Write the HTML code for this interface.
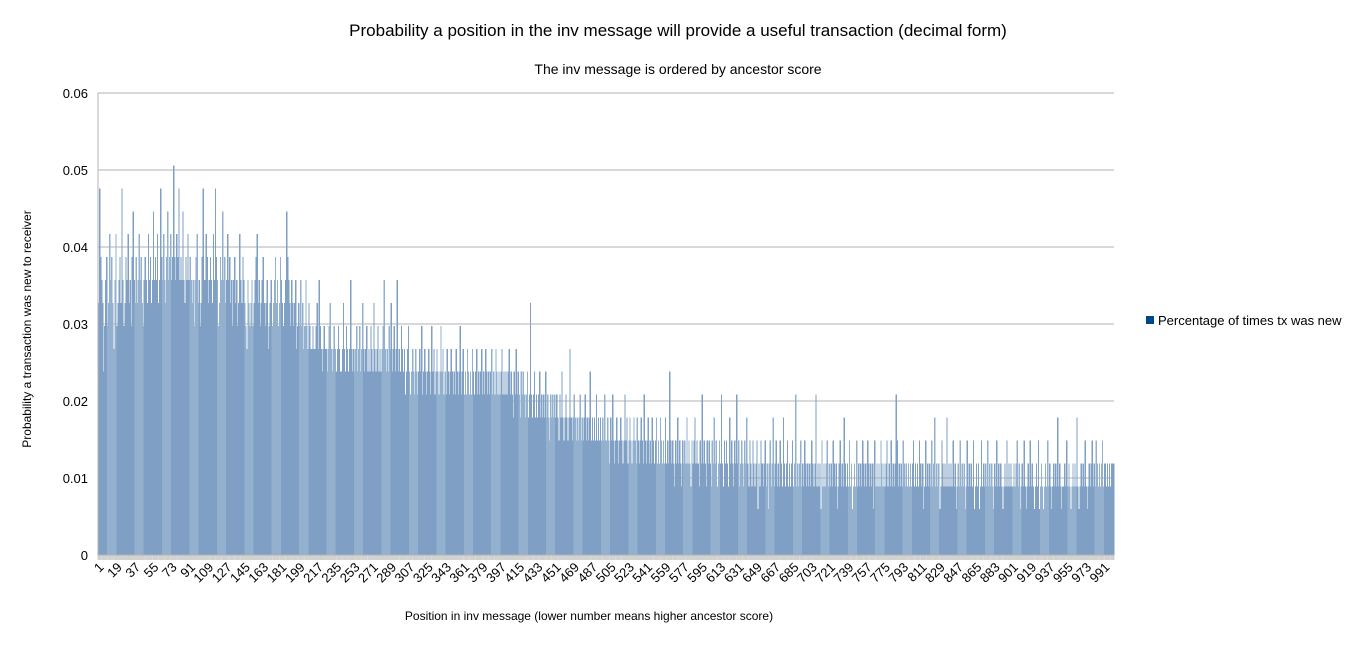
<!DOCTYPE html>
<html><head><meta charset="utf-8"><style>
body{margin:0;background:#fff;font-family:"Liberation Sans",sans-serif}
svg text{font-family:"Liberation Sans",sans-serif}
</style></head><body>
<svg id="c" width="1356" height="643" xmlns="http://www.w3.org/2000/svg">
<text x="678" y="36" font-size="17" text-anchor="middle">Probability a position in the inv message will provide a useful transaction (decimal form)</text>
<text x="678" y="74" font-size="14" text-anchor="middle">The inv message is ordered by ancestor score</text>
<text transform="translate(31,329) rotate(-90)" font-size="12" text-anchor="middle">Probability a transaction was new to receiver</text>
<text x="589" y="620" font-size="12" text-anchor="middle">Position in inv message (lower number means higher ancestor score)</text>
<g><rect x="1146" y="316" width="8" height="8" fill="#004586"/><text x="1158" y="325" font-size="13">Percentage of times tx was new</text></g>
<g id="grid"></g><g id="bars"></g><g id="axes"></g>
</svg>
<script>
const counts=[11,16,13,12,11,8,10,12,13,10,11,14,12,13,11,9,12,14,10,11,12,13,11,16,12,10,11,13,12,14,11,12,10,13,15,12,11,13,11,12,14,12,13,11,10,12,13,12,11,14,
12,13,11,12,15,12,13,12,14,11,12,16,13,12,14,12,11,13,15,12,13,14,12,13,17,13,12,14,13,16,12,13,12,15,12,11,13,12,14,12,13,12,11,12,10,12,13,14,11,12,
10,11,13,16,12,12,14,13,11,12,13,12,11,14,12,16,13,12,10,11,13,12,15,12,13,11,12,14,12,13,11,12,10,12,13,11,12,10,11,14,12,11,13,12,11,10,9,12,11,10,
11,12,10,11,12,13,14,11,12,10,11,12,13,11,10,11,12,9,10,11,12,10,11,12,13,11,12,10,11,13,12,11,10,11,12,15,13,12,11,10,12,11,10,11,12,9,10,11,10,12,
10,11,9,10,12,10,9,11,10,9,9,10,9,9,10,11,9,12,10,9,8,9,10,9,9,8,9,10,11,9,8,9,10,9,8,9,10,9,8,8,9,11,9,8,10,9,8,9,12,9,
8,9,8,9,10,8,9,10,8,9,11,9,8,9,10,8,9,8,10,9,8,11,9,8,9,10,8,9,8,9,10,12,9,8,9,8,10,9,11,8,9,10,8,9,12,8,9,8,10,9,
8,9,7,8,9,10,8,7,8,9,8,7,9,8,7,8,9,8,10,7,8,9,8,7,8,9,8,7,10,8,9,7,8,9,8,7,8,10,8,9,7,8,7,9,8,7,8,9,8,7,
8,7,9,8,7,8,10,7,8,9,7,8,7,9,8,7,8,7,9,8,7,8,9,7,8,7,8,9,7,8,7,9,8,7,8,7,8,9,7,8,7,9,8,7,8,7,8,9,7,8,
7,8,7,8,9,7,8,7,6,8,7,9,7,8,7,6,8,7,8,7,6,7,8,6,7,11,7,6,7,8,6,7,6,7,8,6,7,6,7,6,8,6,7,6,5,7,6,7,6,7,
6,7,6,5,7,6,8,6,5,6,7,6,5,6,9,6,5,6,7,6,5,6,5,6,7,5,6,5,6,7,5,6,5,6,8,5,6,5,6,5,7,5,6,5,6,5,6,5,7,5,
5,6,5,4,6,5,7,5,4,5,6,5,4,5,6,5,4,5,7,5,6,4,5,6,5,4,5,6,5,4,6,5,4,5,6,5,4,7,5,4,5,6,4,5,4,6,5,4,5,6,
4,5,4,6,5,4,5,4,6,4,5,4,8,5,4,5,4,3,5,4,6,4,5,4,3,5,4,5,4,6,4,5,4,3,5,4,5,6,4,5,4,3,5,4,7,4,5,4,3,5,
4,5,4,3,5,4,6,4,5,3,4,5,4,7,4,3,5,4,5,4,3,6,4,5,4,3,5,4,7,4,5,3,4,5,4,3,5,4,6,4,3,5,4,3,5,4,3,4,5,2,
4,3,5,4,3,4,5,3,4,2,4,5,3,4,6,3,4,5,3,4,3,5,4,3,6,4,3,4,5,3,4,3,4,5,3,4,7,3,4,3,4,5,3,4,3,5,4,3,4,3,
4,3,5,4,3,4,7,3,4,3,4,2,5,3,4,3,4,5,3,4,3,4,3,5,4,3,4,2,3,4,5,3,4,3,6,4,3,4,3,5,3,4,2,3,4,3,5,3,4,3,
4,3,5,4,3,4,3,5,4,3,4,3,4,2,5,3,4,3,4,3,5,4,3,4,3,4,5,3,4,3,5,3,4,3,4,7,5,3,4,3,4,3,5,4,3,4,3,4,3,4,
3,4,5,3,4,3,4,3,5,4,3,4,2,3,5,3,4,3,4,3,5,3,4,6,3,4,3,4,2,3,5,4,3,4,3,6,3,4,3,4,3,5,3,4,2,3,4,3,5,3,
4,3,4,2,3,5,3,4,3,4,3,5,2,3,4,3,4,2,3,5,3,4,3,4,3,5,3,4,3,4,3,2,4,3,5,3,4,3,4,3,2,3,4,3,5,3,4,3,4,3,
3,4,3,4,5,3,4,2,3,4,3,5,3,2,3,4,3,5,3,4,3,2,3,4,3,5,2,3,4,3,2,3,4,3,5,3,4,3,2,3,4,3,4,3,6,3,4,3,2,3,
3,4,3,5,3,4,3,2,3,4,3,4,3,6,3,2,3,4,3,4,3,5,3,2,3,4,3,4,5,3,4,3,5,4,3,4,3,4,5,3,4,4,3,4,3,4,3,4,4,4];
const sampleSize=336;
const values=counts.map(c=>c/sampleSize);
const yTicks=[0,0.01,0.02,0.03,0.04,0.05,0.06];
const yTickLabels=["0","0.01","0.02","0.03","0.04","0.05","0.06"];
const NS="http://www.w3.org/2000/svg";
const X0=98,X1=1114,Y0=555,Y1=93,YMAX=0.06;
const n=values.length,slot=(X1-X0)/n;
const y=v=>Y0-(v/YMAX)*(Y0-Y1);
const x=i=>X0+i*slot;
function mk(t,a){const e=document.createElementNS(NS,t);for(const k in a)e.setAttribute(k,a[k]);return e;}
const grid=document.getElementById('grid'),bars=document.getElementById('bars'),axes=document.getElementById('axes');
yTicks.forEach((t,i)=>{
 if(t>0){const l=mk('line',{x1:X0,x2:X1,y1:y(t),y2:y(t),stroke:'#b3b3b3','stroke-width':1,'shape-rendering':'crispEdges'});
 
 
 grid.appendChild(l);}
 const tx=mk('text',{x:88,y:y(t)+5,'font-size':13,'text-anchor':'end'});
 tx.textContent=yTickLabels[i];
 
 
 axes.appendChild(tx);
});
values.forEach((v,i)=>{
 const r=mk('rect',{x:x(i),y:y(v),width:slot+0.3,height:Y0-y(v),fill:(Math.floor(i/9)%3==1)?'#93b1cf':'#7f9fc4','shape-rendering':'crispEdges'});
 
 
 bars.appendChild(r);
});
let d='';for(let i=0;i<=n;i++){d+='M'+x(i).toFixed(1)+' '+Y0+'v5';}
const tk=mk('path',{d:d,stroke:'#b3b3b3','stroke-width':0.6});


axes.appendChild(tk);
const ax=mk('path',{d:`M${X0} ${Y1}V${Y0}H${X1}`,stroke:'#b3b3b3',fill:'none','shape-rendering':'crispEdges'});


axes.appendChild(ax);
for(let i=0;i<n;i+=18){
 const cx=x(i)+slot/2;
 const t=mk('text',{transform:`translate(${cx+6},${Y0+13}) rotate(-45)`,'font-size':13,'text-anchor':'end'});
 t.textContent=String(i+1);
 
 
 axes.appendChild(t);
}
</script>
</body></html>
